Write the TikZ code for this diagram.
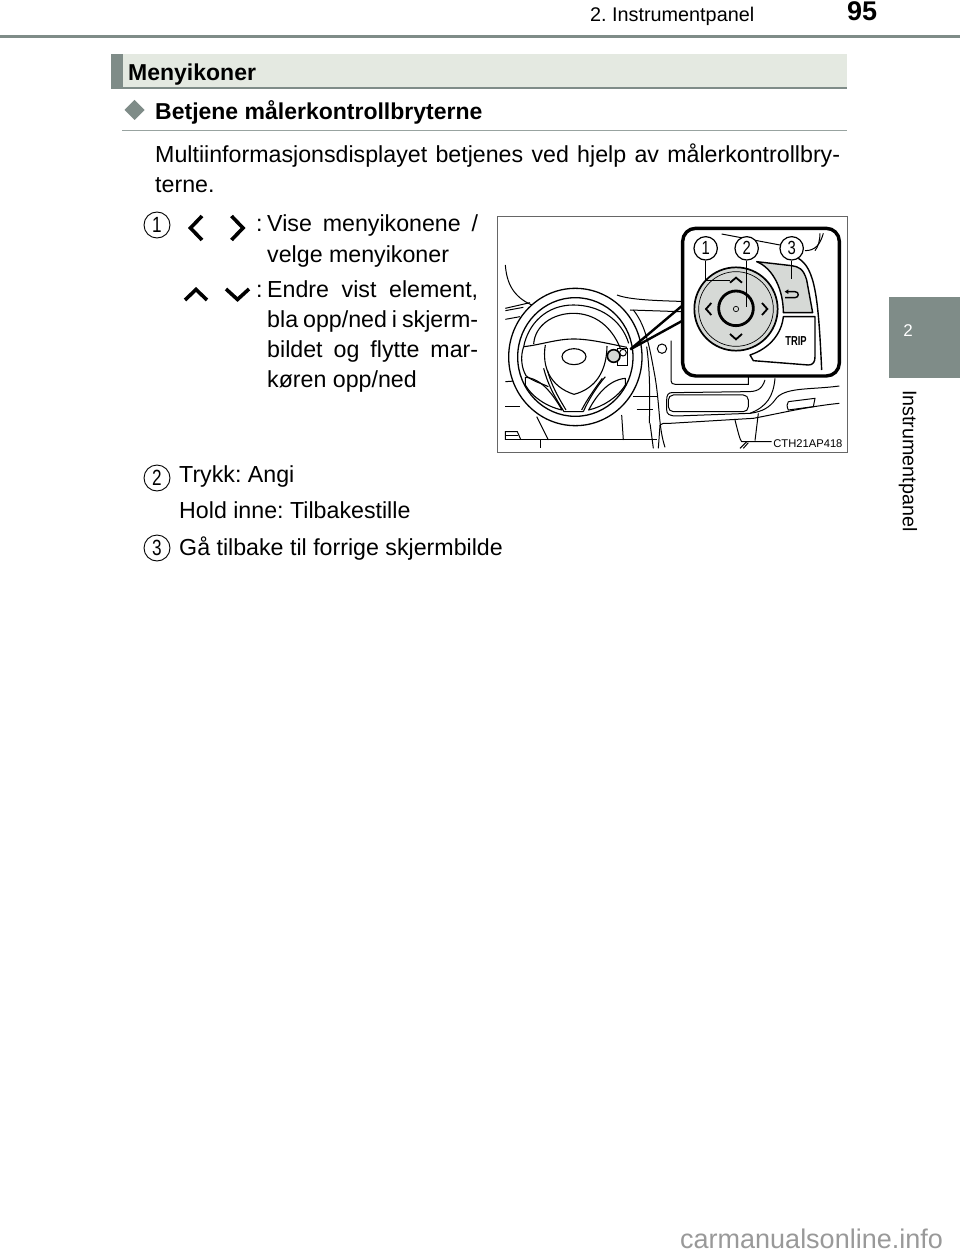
\documentclass[tikz,border=0pt]{standalone}
\usepackage{fontspec}
\setmainfont{Liberation Sans}
\frenchspacing
\definecolor{tabgray}{HTML}{7F8C88}
\definecolor{barfill}{HTML}{E4E9E1}
\definecolor{btngray}{HTML}{D6D9D6}
\newcommand{\fitline}[2]{\makebox[#1pt][s]{#2}}
\newcommand{\thindigit}[1]{\scalebox{0.78}[1]{#1}}
\tikzset{
	bodytext/.style={anchor=base west,inner sep=0pt,font=\fontsize{23.2}{28}\selectfont},
	headtext/.style={anchor=base west,inner sep=0pt,font=\fontsize{23}{28}\selectfont\bfseries},
	itemmark/.style={circle,draw,line width=0.9pt,inner sep=0pt,minimum size=26pt,font=\fontsize{22}{22}\selectfont},
	callout/.style={circle,draw,fill=white,line width=1.2pt,inner sep=0pt,minimum size=23.4pt,font=\fontsize{19}{20}\selectfont},
	chevron/.style={line width=3.6pt},
	dashline/.style={line width=1pt},
	keyline/.style={line width=1.4pt,line join=round},
}
\begin{document}
\begin{tikzpicture}[x=1pt,y=-1pt]
	\useasboundingbox (0,0) rectangle (960,1257);
	\fill[white] (0,0) rectangle (960,1257);
	\fill[tabgray] (0,35.5) rectangle (960,38.5);
	\fill[tabgray] (889,297) rectangle (960,378);
	\node[bodytext,font=\fontsize{19.8}{24}\selectfont] (headline) at (590,22) {2. Instrumentpanel};
	\node[anchor=base west,inner sep=0pt,font=\fontsize{27}{28}\selectfont\bfseries] (pagenum) at (847,20.5) {95};
	\node[white,font=\fontsize{17}{20}\selectfont] (tabnum) at (908,331) {2};
	\node[rotate=-90,anchor=west,inner sep=0pt,font=\fontsize{19.7}{22}\selectfont] (tabtext) at (908,390) {Instrumentpanel};

	\fill[barfill] (111,54) rectangle (847,89);
	\fill[tabgray] (111,54) rectangle (123,89);
	\fill[tabgray] (111,87.5) rectangle (847,89.5);
	\node[headtext] (menutitle) at (128,81) {Menyikoner};
	\fill[tabgray] (134.5,100) -- (144.5,110) -- (134.5,120) -- (124.5,110) -- cycle;
	\node[headtext] (subtitle) at (155,120) {Betjene målerkontrollbryterne};
	\fill[tabgray!80] (122,129.7) rectangle (847,130.7);

	\node[bodytext] (introa) at (155,163) {\fitline{685}{Multiinformasjonsdisplayet betjenes ved hjelp av målerkontrollbry-}};
	\node[bodytext] (introb) at (155,193) {terne.};

	\node[itemmark] (itema) at (157,225) {\thindigit{1}};
	\draw[chevron] (202,216) -- (190.5,228) -- (202,240);
	\draw[chevron] (231.5,216) -- (243,228) -- (231.5,240);
	\node[bodytext] (cola) at (256,232) {:};
	\node[bodytext] (lineaa) at (267,232) {\fitline{211}{Vise menyikonene /}};
	\node[bodytext] (lineab) at (267,262) {velge menyikoner};
	\draw[chevron] (185,300) -- (196,289.5) -- (207,300);
	\draw[chevron] (226,289) -- (237.5,299.5) -- (249,289);
	\node[bodytext] (colb) at (256,297) {:};
	\node[bodytext] (lineba) at (267,297) {\fitline{211}{Endre vist element,}};
	\node[bodytext] (linebb) at (267,327) {\fitline{211}{bla opp/ned i skjerm-}};
	\node[bodytext] (linebc) at (267,357) {\fitline{211}{bildet og flytte mar-}};
	\node[bodytext] (linebd) at (267,387) {køren opp/ned};

	\node[itemmark] (itemb) at (157,478) {\thindigit{2}};
	\node[bodytext] (linec) at (179,482) {Trykk: Angi};
	\node[bodytext] (lined) at (179,518) {Hold inne: Tilbakestille};
	\node[itemmark] (itemc) at (157,548) {\thindigit{3}};
	\node[bodytext] (linee) at (179,555) {Gå tilbake til forrige skjermbilde};

	\node[anchor=base west,inner sep=0pt,text=black!40,font=\fontsize{27}{30}\selectfont] (webmark) at (680,1248) {carmanualsonline.info};

	\begin{scope}[shift={(490,210)},x=0.33333pt,y=-0.33333pt]
		\clip (23,18) rectangle (1072,728);
		\begin{scope}[dashline]
			\draw (46,165) .. controls (50,220) and (70,260) .. (125,285);
			\draw (46,295) -- (120,278);
			\draw (46,302) -- (100,292);
			\draw (46,328) -- (90,320);
			\draw (381,255) .. controls (420,270) and (500,272) .. (600,275);
			\draw (420,300) -- (600,306);
			\draw (46,590) -- (90,590);
			\draw (46,515) -- (90,512);
			\draw (430,300) .. controls (470,350) and (480,420) .. (495,500) .. controls (510,590) and (505,650) .. (525,712);
			\draw (470,410) .. controls (480,480) and (480,560) .. (478,640);
			\draw (516,416) circle [radius=14];
			\draw (543,392) -- (543,512) .. controls (543,520) and (548,523) .. (556,523) -- (775,523) -- (775,495);
			\draw[rounded corners=5pt] (535,555) rectangle (775,605);
			\draw (825,510) .. controls (815,540) and (800,545) .. (770,545) -- (545,548) .. controls (535,548) and (530,555) .. (530,570) -- (530,600) .. controls (530,612) and (538,618) .. (560,618) -- (780,610) .. controls (830,590) and (850,560) .. (855,505);
			\draw (1048,528) .. controls (960,540) and (880,530) .. (855,570) .. controls (840,590) and (820,605) .. (780,610);
			\draw (1048,580) .. controls (950,590) and (870,610) .. (790,625) -- (540,640) -- (520,640) -- (510,645) -- (505,715);
			\draw (895,575) -- (975,565) -- (970,590) -- (895,600) .. controls (890,590) and (890,580) .. (895,575);
			\draw (735,630) .. controls (745,670) and (750,690) .. (755,695) -- (845,695);
			\draw (805,610) -- (795,692);
			\draw (750,715) -- (770,695);
			\draw (760,715) -- (775,698);
			\draw (46,690) -- (500,690);
			\draw (150,690) -- (150,715);
			\draw (46,690) -- (46,665) -- (82,665) -- (92,688);
			\draw (46,678) -- (85,678);
			\draw (140,620) -- (175,690);
			\draw (395,615) -- (400,690);
			\draw (480,640) -- (490,715);
			\draw (430,560) -- (500,560);
			\draw (440,600) -- (490,600);
		\end{scope}
		\filldraw[fill=white,line width=1.3pt] (256,441) ellipse [x radius=200,y radius=206];
		\draw[line width=1.3pt] (256,441) ellipse [x radius=173,y radius=178];
		\begin{scope}[keyline,line width=1.1pt]
			\draw (101,410) .. controls (115,340) and (170,285) .. (250,285) .. controls (330,285) and (395,330) .. (416,400);
			\draw (131,402) .. controls (135,345) and (190,310) .. (250,310) .. controls (315,310) and (365,350) .. (391,415);
			\draw (101,410) .. controls (150,405) and (200,387) .. (250,387) .. controls (300,387) and (350,400) .. (411,412);
			\draw (101,410) .. controls (90,440) and (95,475) .. (108,497) .. controls (130,515) and (155,520) .. (175,530);
			\draw (166,405) .. controls (155,470) and (180,530) .. (252,553) .. controls (320,535) and (350,480) .. (351,408);
			\draw (252,440) ellipse [x radius=36,y radius=24];
			\draw (106,502) .. controls (155,505) and (190,555) .. (216,600) .. controls (170,590) and (125,560) .. (106,525) -- cycle;
			\draw (406,505) .. controls (355,510) and (320,555) .. (296,600) .. controls (340,590) and (385,560) .. (406,525) -- cycle;
			\draw (161,475) .. controls (175,530) and (200,570) .. (222,605) -- (280,605);
			\draw (172,480) .. controls (185,530) and (210,570) .. (228,600);
			\draw (346,500) .. controls (320,530) and (295,570) .. (280,605);
			\draw (337,505) .. controls (315,535) and (290,570) .. (275,600);
		\end{scope}
		\draw[line width=0.7pt] (381,415) rectangle (411,465);
		\draw[line width=1pt] (399,428) circle [radius=10];
		\filldraw[fill=btngray,line width=1.6pt] (371,438) circle [radius=19];
		\coordinate (zoomtip) at (421,418);
		\coordinate (zoomupper) at (585,280);
		\coordinate (zoomlower) at (585,328);
		\draw[line width=2.4pt] (zoomtip) -- (zoomupper);
		\draw[line width=2.4pt] (zoomtip) -- (zoomlower);

		\filldraw[fill=white,line width=3.4pt,rounded corners=13pt] (578,55) rectangle (1048,498);
		\draw[dashline] (695,72) -- (870,105);
		\draw[dashline] (945,122) .. controls (975,122) and (990,105) .. (1000,70);
		\draw[dashline] (975,122) .. controls (985,110) and (990,90) .. (990,70);
		\draw[keyline] (925,145) .. controls (975,175) and (985,260) .. (995,480);
		\filldraw[fill=btngray,keyline] (800,155) .. controls (850,175) and (880,240) .. (880,308) -- (968,308) -- (950,210) .. controls (940,175) and (925,170) .. (905,167) -- cycle;
		\draw[keyline] (880,320) .. controls (875,370) and (840,415) .. (780,435) -- (790,452) -- (955,465) .. controls (970,465) and (975,455) .. (975,440) -- (975,320) -- cycle;
		\filldraw[fill=btngray,line width=1.7pt] (738,297) circle [radius=125];
		\draw[line width=0.7pt] (738,297) circle [radius=112];
		\filldraw[fill=btngray,line width=2.8pt] (738,295) circle [radius=52];
		\draw[line width=0.7pt] (738,297) circle [radius=8];
		\draw[line width=1.8pt] (720,218) -- (738,203) -- (756,218);
		\draw[line width=1.8pt] (720,372) -- (738,388) -- (756,372);
		\draw[line width=1.8pt] (664,279) -- (648,297) -- (664,315);
		\draw[line width=1.8pt] (816,279) -- (832,297) -- (816,315);
		\draw[line width=1.4pt] (892,245) -- (915,245) .. controls (928,245) and (928,263) .. (915,263) -- (885,263);
		\fill (884,245) -- (895,238) -- (895,252) -- cycle;
		\node[inner sep=0pt,font=\fontsize{13}{14}\selectfont\bfseries] (triplabel) at (918,393) {\scalebox{0.72}[1]{TRIP}};

		\node[callout] (calla) at (647,115) {\thindigit{1}};
		\node[callout] (callb) at (770,115) {\thindigit{2}};
		\node[callout] (callc) at (905,115) {\thindigit{3}};
		\coordinate (tipa) at (720,210);
		\coordinate (tipb) at (770,290);
		\coordinate (tipc) at (905,207);
		\draw[line width=0.9pt] (calla.south) |- (tipa);
		\draw[line width=0.9pt] (callb.south) -- (tipb);
		\draw[line width=0.9pt] (callc.south) -- (tipc);
		\node[anchor=base east,inner sep=0pt,font=\fontsize{11.2}{12}\selectfont] (figcode) at (1058,714) {CTH21AP418};
	\end{scope}
	\draw[line width=1.2pt,black!60] (497.5,216.3) rectangle (847.3,452.7);
\end{tikzpicture}
\end{document}
